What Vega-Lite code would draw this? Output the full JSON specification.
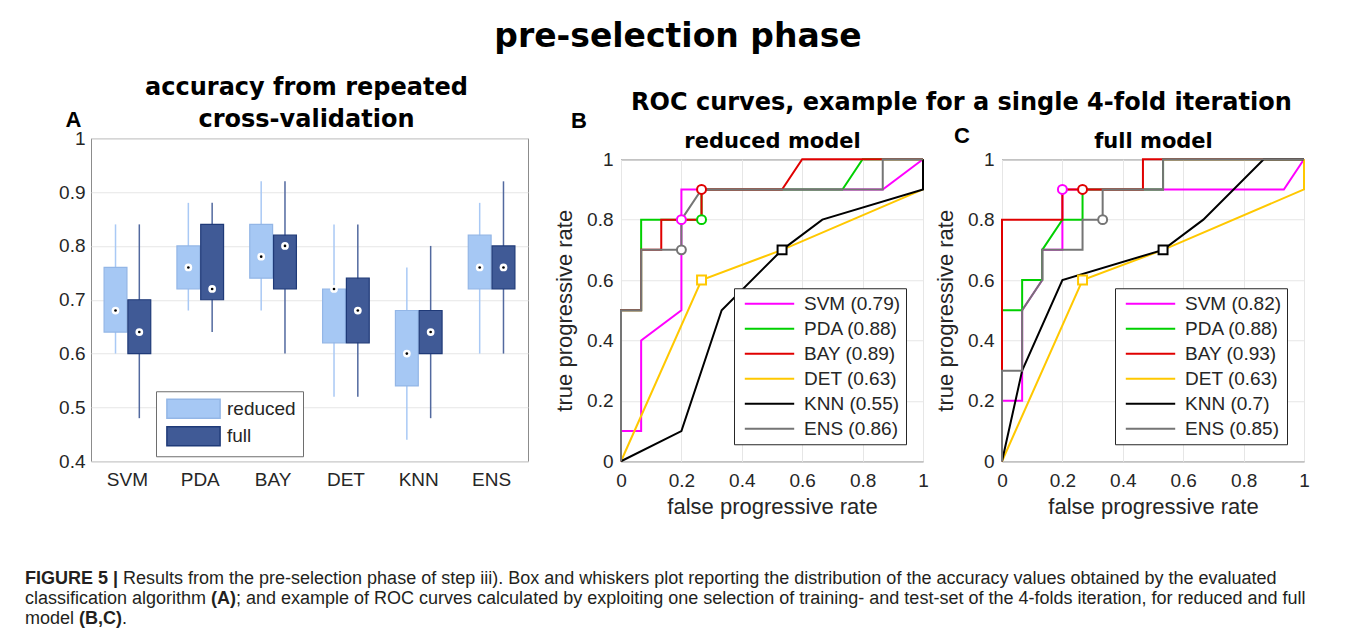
{
  "$schema": "https://vega.github.io/schema/vega-lite/v6.json",
  "background": "white",
  "padding": {"left": 25, "top": 20, "right": 5, "bottom": 5},
  "config": {
    "font": "Liberation Sans",
    "axis": {"labelFont": "Liberation Sans", "labelFontSize": 19, "labelColor": "#262626", "titleFont": "Liberation Sans", "titleFontWeight": "normal", "titleColor": "#262626", "labelFlush": false, "labelOverlap": false},
    "title": {"font": "DejaVu Sans", "fontWeight": "bold", "color": "#000000"},
    "legend": {"labelFont": "Liberation Sans", "labelFontSize": 19, "labelColor": "#262626", "labelLimit": 300}
  },
  "datasets": {
    "box": [
      {"clf": "SVM", "model": "reduced", "lo": 0.60, "q1": 0.64, "med": 0.68, "q3": 0.76, "hi": 0.84},
      {"clf": "SVM", "model": "full", "lo": 0.48, "q1": 0.60, "med": 0.64, "q3": 0.70, "hi": 0.84},
      {"clf": "PDA", "model": "reduced", "lo": 0.68, "q1": 0.72, "med": 0.76, "q3": 0.80, "hi": 0.88},
      {"clf": "PDA", "model": "full", "lo": 0.64, "q1": 0.70, "med": 0.72, "q3": 0.84, "hi": 0.88},
      {"clf": "BAY", "model": "reduced", "lo": 0.68, "q1": 0.74, "med": 0.78, "q3": 0.84, "hi": 0.92},
      {"clf": "BAY", "model": "full", "lo": 0.60, "q1": 0.72, "med": 0.80, "q3": 0.82, "hi": 0.92},
      {"clf": "DET", "model": "reduced", "lo": 0.52, "q1": 0.62, "med": 0.72, "q3": 0.72, "hi": 0.84},
      {"clf": "DET", "model": "full", "lo": 0.52, "q1": 0.62, "med": 0.68, "q3": 0.74, "hi": 0.84},
      {"clf": "KNN", "model": "reduced", "lo": 0.44, "q1": 0.54, "med": 0.60, "q3": 0.68, "hi": 0.76},
      {"clf": "KNN", "model": "full", "lo": 0.48, "q1": 0.60, "med": 0.64, "q3": 0.68, "hi": 0.80},
      {"clf": "ENS", "model": "reduced", "lo": 0.60, "q1": 0.72, "med": 0.76, "q3": 0.82, "hi": 0.88},
      {"clf": "ENS", "model": "full", "lo": 0.60, "q1": 0.72, "med": 0.76, "q3": 0.80, "hi": 0.92}
    ],
    "rocB": [
      {"curve": "SVM (0.79)", "i": 0, "fpr": 0, "tpr": 0},
      {"curve": "SVM (0.79)", "i": 1, "fpr": 0, "tpr": 0.1},
      {"curve": "SVM (0.79)", "i": 2, "fpr": 0.0667, "tpr": 0.1},
      {"curve": "SVM (0.79)", "i": 3, "fpr": 0.0667, "tpr": 0.4},
      {"curve": "SVM (0.79)", "i": 4, "fpr": 0.2, "tpr": 0.5},
      {"curve": "SVM (0.79)", "i": 5, "fpr": 0.2, "tpr": 0.9},
      {"curve": "SVM (0.79)", "i": 6, "fpr": 0.8667, "tpr": 0.9},
      {"curve": "SVM (0.79)", "i": 7, "fpr": 1, "tpr": 1},
      {"curve": "PDA (0.88)", "i": 0, "fpr": 0, "tpr": 0},
      {"curve": "PDA (0.88)", "i": 1, "fpr": 0, "tpr": 0.5},
      {"curve": "PDA (0.88)", "i": 2, "fpr": 0.0667, "tpr": 0.5},
      {"curve": "PDA (0.88)", "i": 3, "fpr": 0.0667, "tpr": 0.8},
      {"curve": "PDA (0.88)", "i": 4, "fpr": 0.2667, "tpr": 0.8},
      {"curve": "PDA (0.88)", "i": 5, "fpr": 0.2667, "tpr": 0.9},
      {"curve": "PDA (0.88)", "i": 6, "fpr": 0.7333, "tpr": 0.9},
      {"curve": "PDA (0.88)", "i": 7, "fpr": 0.8, "tpr": 1},
      {"curve": "PDA (0.88)", "i": 8, "fpr": 1, "tpr": 1},
      {"curve": "BAY (0.89)", "i": 0, "fpr": 0, "tpr": 0},
      {"curve": "BAY (0.89)", "i": 1, "fpr": 0, "tpr": 0.5},
      {"curve": "BAY (0.89)", "i": 2, "fpr": 0.0667, "tpr": 0.5},
      {"curve": "BAY (0.89)", "i": 3, "fpr": 0.0667, "tpr": 0.7},
      {"curve": "BAY (0.89)", "i": 4, "fpr": 0.1333, "tpr": 0.7},
      {"curve": "BAY (0.89)", "i": 5, "fpr": 0.1333, "tpr": 0.8},
      {"curve": "BAY (0.89)", "i": 6, "fpr": 0.2667, "tpr": 0.8},
      {"curve": "BAY (0.89)", "i": 7, "fpr": 0.2667, "tpr": 0.9},
      {"curve": "BAY (0.89)", "i": 8, "fpr": 0.5333, "tpr": 0.9},
      {"curve": "BAY (0.89)", "i": 9, "fpr": 0.6, "tpr": 1},
      {"curve": "BAY (0.89)", "i": 10, "fpr": 1, "tpr": 1},
      {"curve": "DET (0.63)", "i": 0, "fpr": 0, "tpr": 0},
      {"curve": "DET (0.63)", "i": 1, "fpr": 0.2667, "tpr": 0.6},
      {"curve": "DET (0.63)", "i": 2, "fpr": 0.5333, "tpr": 0.7},
      {"curve": "DET (0.63)", "i": 3, "fpr": 1, "tpr": 0.9},
      {"curve": "DET (0.63)", "i": 4, "fpr": 1, "tpr": 1},
      {"curve": "KNN (0.55)", "i": 0, "fpr": 0, "tpr": 0},
      {"curve": "KNN (0.55)", "i": 1, "fpr": 0.2, "tpr": 0.1},
      {"curve": "KNN (0.55)", "i": 2, "fpr": 0.3333, "tpr": 0.5},
      {"curve": "KNN (0.55)", "i": 3, "fpr": 0.5333, "tpr": 0.7},
      {"curve": "KNN (0.55)", "i": 4, "fpr": 0.6667, "tpr": 0.8},
      {"curve": "KNN (0.55)", "i": 5, "fpr": 1, "tpr": 0.9},
      {"curve": "KNN (0.55)", "i": 6, "fpr": 1, "tpr": 1},
      {"curve": "ENS (0.86)", "i": 0, "fpr": 0, "tpr": 0},
      {"curve": "ENS (0.86)", "i": 1, "fpr": 0, "tpr": 0.5},
      {"curve": "ENS (0.86)", "i": 2, "fpr": 0.0667, "tpr": 0.5},
      {"curve": "ENS (0.86)", "i": 3, "fpr": 0.0667, "tpr": 0.7},
      {"curve": "ENS (0.86)", "i": 4, "fpr": 0.2, "tpr": 0.7},
      {"curve": "ENS (0.86)", "i": 5, "fpr": 0.2, "tpr": 0.8},
      {"curve": "ENS (0.86)", "i": 6, "fpr": 0.2667, "tpr": 0.9},
      {"curve": "ENS (0.86)", "i": 7, "fpr": 0.8667, "tpr": 0.9},
      {"curve": "ENS (0.86)", "i": 8, "fpr": 0.8667, "tpr": 1},
      {"curve": "ENS (0.86)", "i": 9, "fpr": 1, "tpr": 1}
    ],
    "markB": [
      {"curve": "SVM (0.79)", "shape": "circle", "fpr": 0.2, "tpr": 0.8},
      {"curve": "PDA (0.88)", "shape": "circle", "fpr": 0.2667, "tpr": 0.8},
      {"curve": "BAY (0.89)", "shape": "circle", "fpr": 0.2667, "tpr": 0.9},
      {"curve": "DET (0.63)", "shape": "square", "fpr": 0.2667, "tpr": 0.6},
      {"curve": "KNN (0.55)", "shape": "square", "fpr": 0.5333, "tpr": 0.7},
      {"curve": "ENS (0.86)", "shape": "circle", "fpr": 0.2, "tpr": 0.7}
    ],
    "rocC": [
      {"curve": "SVM (0.82)", "i": 0, "fpr": 0, "tpr": 0},
      {"curve": "SVM (0.82)", "i": 1, "fpr": 0, "tpr": 0.2},
      {"curve": "SVM (0.82)", "i": 2, "fpr": 0.0667, "tpr": 0.2},
      {"curve": "SVM (0.82)", "i": 3, "fpr": 0.0667, "tpr": 0.5},
      {"curve": "SVM (0.82)", "i": 4, "fpr": 0.1333, "tpr": 0.6},
      {"curve": "SVM (0.82)", "i": 5, "fpr": 0.1333, "tpr": 0.7},
      {"curve": "SVM (0.82)", "i": 6, "fpr": 0.2, "tpr": 0.7},
      {"curve": "SVM (0.82)", "i": 7, "fpr": 0.2, "tpr": 0.9},
      {"curve": "SVM (0.82)", "i": 8, "fpr": 0.9333, "tpr": 0.9},
      {"curve": "SVM (0.82)", "i": 9, "fpr": 1, "tpr": 1},
      {"curve": "PDA (0.88)", "i": 0, "fpr": 0, "tpr": 0},
      {"curve": "PDA (0.88)", "i": 1, "fpr": 0, "tpr": 0.5},
      {"curve": "PDA (0.88)", "i": 2, "fpr": 0.0667, "tpr": 0.5},
      {"curve": "PDA (0.88)", "i": 3, "fpr": 0.0667, "tpr": 0.6},
      {"curve": "PDA (0.88)", "i": 4, "fpr": 0.1333, "tpr": 0.6},
      {"curve": "PDA (0.88)", "i": 5, "fpr": 0.1333, "tpr": 0.7},
      {"curve": "PDA (0.88)", "i": 6, "fpr": 0.2, "tpr": 0.8},
      {"curve": "PDA (0.88)", "i": 7, "fpr": 0.2667, "tpr": 0.8},
      {"curve": "PDA (0.88)", "i": 8, "fpr": 0.2667, "tpr": 0.9},
      {"curve": "PDA (0.88)", "i": 9, "fpr": 0.5333, "tpr": 0.9},
      {"curve": "PDA (0.88)", "i": 10, "fpr": 0.5333, "tpr": 1},
      {"curve": "PDA (0.88)", "i": 11, "fpr": 1, "tpr": 1},
      {"curve": "BAY (0.93)", "i": 0, "fpr": 0, "tpr": 0},
      {"curve": "BAY (0.93)", "i": 1, "fpr": 0, "tpr": 0.8},
      {"curve": "BAY (0.93)", "i": 2, "fpr": 0.2, "tpr": 0.8},
      {"curve": "BAY (0.93)", "i": 3, "fpr": 0.2, "tpr": 0.9},
      {"curve": "BAY (0.93)", "i": 4, "fpr": 0.4667, "tpr": 0.9},
      {"curve": "BAY (0.93)", "i": 5, "fpr": 0.4667, "tpr": 1},
      {"curve": "BAY (0.93)", "i": 6, "fpr": 1, "tpr": 1},
      {"curve": "DET (0.63)", "i": 0, "fpr": 0, "tpr": 0},
      {"curve": "DET (0.63)", "i": 1, "fpr": 0.2667, "tpr": 0.6},
      {"curve": "DET (0.63)", "i": 2, "fpr": 0.5333, "tpr": 0.7},
      {"curve": "DET (0.63)", "i": 3, "fpr": 1, "tpr": 0.9},
      {"curve": "DET (0.63)", "i": 4, "fpr": 1, "tpr": 1},
      {"curve": "KNN (0.7)", "i": 0, "fpr": 0, "tpr": 0},
      {"curve": "KNN (0.7)", "i": 1, "fpr": 0.0667, "tpr": 0.3},
      {"curve": "KNN (0.7)", "i": 2, "fpr": 0.2, "tpr": 0.6},
      {"curve": "KNN (0.7)", "i": 3, "fpr": 0.5333, "tpr": 0.7},
      {"curve": "KNN (0.7)", "i": 4, "fpr": 0.6667, "tpr": 0.8},
      {"curve": "KNN (0.7)", "i": 5, "fpr": 0.8667, "tpr": 1},
      {"curve": "KNN (0.7)", "i": 6, "fpr": 1, "tpr": 1},
      {"curve": "ENS (0.85)", "i": 0, "fpr": 0, "tpr": 0},
      {"curve": "ENS (0.85)", "i": 1, "fpr": 0, "tpr": 0.3},
      {"curve": "ENS (0.85)", "i": 2, "fpr": 0.0667, "tpr": 0.3},
      {"curve": "ENS (0.85)", "i": 3, "fpr": 0.0667, "tpr": 0.5},
      {"curve": "ENS (0.85)", "i": 4, "fpr": 0.1333, "tpr": 0.6},
      {"curve": "ENS (0.85)", "i": 5, "fpr": 0.1333, "tpr": 0.7},
      {"curve": "ENS (0.85)", "i": 6, "fpr": 0.2667, "tpr": 0.7},
      {"curve": "ENS (0.85)", "i": 7, "fpr": 0.2667, "tpr": 0.8},
      {"curve": "ENS (0.85)", "i": 8, "fpr": 0.3333, "tpr": 0.8},
      {"curve": "ENS (0.85)", "i": 9, "fpr": 0.3333, "tpr": 0.9},
      {"curve": "ENS (0.85)", "i": 10, "fpr": 0.5333, "tpr": 0.9},
      {"curve": "ENS (0.85)", "i": 11, "fpr": 0.5333, "tpr": 1},
      {"curve": "ENS (0.85)", "i": 12, "fpr": 1, "tpr": 1}
    ],
    "markC": [
      {"curve": "SVM (0.82)", "shape": "circle", "fpr": 0.2, "tpr": 0.9},
      {"curve": "BAY (0.93)", "shape": "circle", "fpr": 0.2667, "tpr": 0.9},
      {"curve": "DET (0.63)", "shape": "square", "fpr": 0.2667, "tpr": 0.6},
      {"curve": "KNN (0.7)", "shape": "square", "fpr": 0.5333, "tpr": 0.7},
      {"curve": "ENS (0.85)", "shape": "circle", "fpr": 0.3333, "tpr": 0.8}
    ],
    "caption": [
      {"line": 1, "seg": "s1", "text": "FIGURE 5 |"},
      {"line": 1, "seg": "s2", "text": "Results from the pre-selection phase of step iii). Box and whiskers plot reporting the distribution of the accuracy values obtained by the evaluated"},
      {"line": 2, "seg": "s3", "text": "classification algorithm"},
      {"line": 2, "seg": "s4", "text": "(A)"},
      {"line": 2, "seg": "s5", "text": "; and example of ROC curves calculated by exploiting one selection of training- and test-set of the 4-folds iteration, for reduced and full"},
      {"line": 3, "seg": "s6", "text": "model"},
      {"line": 3, "seg": "s7", "text": "(B,C)"},
      {"line": 3, "seg": "s8", "text": "."}
    ]
  },
  "title": {"text": "pre-selection phase", "fontSize": 33, "anchor": "middle", "offset": 22},
  "spacing": 30,
  "resolve": {"scale": {"x": "independent", "y": "independent", "color": "independent"}},
  "vconcat": [
    {
      "spacing": 24,
      "center": true,
      "resolve": {"scale": {"x": "independent", "y": "independent", "color": "independent", "fill": "independent", "stroke": "independent", "shape": "independent"}},
      "hconcat": [
        {
          "width": 437,
          "height": 323,
          "view": {"stroke": "#8c8c8c"},
          "title": {"text": ["accuracy from repeated", "cross-validation"], "fontSize": 24, "lineHeight": 32, "offset": -24, "frame": "group", "dx": -3},
          "data": {"name": "box"},
          "encoding": {
            "x": {"field": "clf", "type": "nominal", "sort": ["SVM", "PDA", "BAY", "DET", "KNN", "ENS"], "scale": {"paddingInner": 0, "paddingOuter": 0},
                  "axis": {"title": " ", "titleFontSize": 22, "titlePadding": 28, "labelAngle": 0, "ticks": false, "domain": false, "labelPadding": 9}},
            "xOffset": {"field": "model", "type": "nominal", "sort": ["reduced", "full"], "scale": {"paddingInner": 0.04, "paddingOuter": 0.55}}
          },
          "layer": [
            {
              "transform": [{"filter": "datum.model === 'reduced'"}],
              "mark": {"type": "rule", "strokeWidth": 1.5, "color": "#a9c9f5"},
              "encoding": {
                "y": {"field": "lo", "type": "quantitative", "scale": {"domain": [0.4, 1], "nice": false, "zero": false},
                      "axis": {"values": [0.4, 0.5, 0.6, 0.7, 0.8, 0.9, 1], "format": "~g", "grid": true, "gridColor": "#e6e6e6", "domain": false, "ticks": false, "labelPadding": 6,
                               "title": "A", "titleAngle": 0, "titleAlign": "left", "titleBaseline": "alphabetic", "titleX": -26, "titleY": -12, "titleFont": "Liberation Sans", "titleFontWeight": "bold", "titleFontSize": 22, "titleColor": "#000000"}},
                "y2": {"field": "hi"}
              }
            },
            {
              "transform": [{"filter": "datum.model === 'full'"}],
              "mark": {"type": "rule", "strokeWidth": 1.5, "color": "#52699f"},
              "encoding": {
                "y": {"field": "lo", "type": "quantitative"},
                "y2": {"field": "hi"}
              }
            },
            {
              "mark": {"type": "bar", "strokeWidth": 1.2},
              "encoding": {
                "y": {"field": "q1", "type": "quantitative"},
                "y2": {"field": "q3"},
                "fill": {"field": "model", "type": "nominal", "scale": {"domain": ["reduced", "full"], "range": ["#a6c8f4", "#405a96"]},
                         "legend": {"title": null, "orient": "none", "legendX": 65, "legendY": 253, "symbolType": "M-2.8,-1H2.8V1H-2.8Z", "symbolSize": 361, "symbolOffset": 20, "symbolStrokeWidth": 1.5, "padding": 7, "rowPadding": 2.5, "labelOffset": 23, "strokeColor": "#6e6e6e", "fillColor": "#ffffff"}},
                "stroke": {"field": "model", "type": "nominal", "scale": {"domain": ["reduced", "full"], "range": ["#93b6e6", "#1f3a78"]},
                           "legend": {"title": null, "orient": "none", "legendX": 65, "legendY": 253, "symbolType": "M-2.8,-1H2.8V1H-2.8Z", "symbolSize": 361, "symbolOffset": 20, "symbolStrokeWidth": 1.5, "padding": 7, "rowPadding": 2.5, "labelOffset": 23, "strokeColor": "#6e6e6e", "fillColor": "#ffffff"}}
              }
            },
            {
              "mark": {"type": "point", "filled": true, "color": "#ffffff", "size": 60, "opacity": 1},
              "encoding": {"y": {"field": "med", "type": "quantitative"}}
            },
            {
              "mark": {"type": "point", "filled": true, "color": "#000000", "size": 7, "opacity": 1},
              "encoding": {"y": {"field": "med", "type": "quantitative"}}
            }
          ]
        },
        {
          "title": {"text": "ROC curves, example for a single 4-fold iteration", "fontSize": 24, "anchor": "middle", "offset": -5, "dx": 30},
          "spacing": 5,
          "resolve": {"scale": {"x": "independent", "y": "independent", "color": "independent", "stroke": "independent"}},
          "hconcat": [
            {
              "width": 302,
              "height": 302,
              "view": {"stroke": "#262626"},
              "title": {"text": "B", "anchor": "start", "frame": "group", "dx": -50, "font": "Liberation Sans", "fontSize": 22, "fontWeight": "bold", "offset": -3},
              "resolve": {"axis": {"x": "independent", "y": "independent"}},
              "layer": [
                {
                  "data": {"name": "rocB"},
                  "mark": {"type": "line", "strokeWidth": 2},
                  "encoding": {
                    "x": {"field": "fpr", "type": "quantitative", "scale": {"domain": [0, 1], "nice": false},
                          "axis": {"title": "false progressive rate", "titleFontSize": 22, "titlePadding": 6, "values": [0, 0.2, 0.4, 0.6, 0.8, 1], "format": "~g", "grid": true, "gridColor": "#e6e6e6", "domain": false, "ticks": false, "labelPadding": 10}},
                    "y": {"field": "tpr", "type": "quantitative", "scale": {"domain": [0, 1], "nice": false},
                          "axis": {"title": "true progressive rate", "titleFontSize": 22, "titlePadding": 10, "values": [0, 0.2, 0.4, 0.6, 0.8, 1], "format": "~g", "grid": true, "gridColor": "#e6e6e6", "domain": false, "ticks": false, "labelPadding": 8}},
                    "color": {"field": "curve", "type": "nominal",
                              "scale": {"domain": ["SVM (0.79)", "PDA (0.88)", "BAY (0.89)", "DET (0.63)", "KNN (0.55)", "ENS (0.86)"], "range": ["#ff00ff", "#00d000", "#e00000", "#ffc800", "#000000", "#757575"]},
                              "legend": {"title": null, "orient": "bottom-right", "offset": 17, "symbolType": "M-2.6,0H2.6", "symbolSize": 361, "symbolOffset": 20, "symbolStrokeWidth": 2, "symbolFillColor": "transparent", "padding": 5, "rowPadding": 4, "labelOffset": 24, "strokeColor": "#262626", "fillColor": "#ffffff"}},
                    "order": {"field": "i", "type": "quantitative"}
                  }
                },
                {
                  "data": {"name": "markB"},
                  "transform": [{"filter": "datum.shape === 'circle'"}],
                  "mark": {"type": "point", "shape": "circle", "filled": true, "fill": "#ffffff", "strokeWidth": 2, "size": 80, "opacity": 1},
                  "encoding": {
                    "x": {"field": "fpr", "type": "quantitative", "axis": null},
                    "y": {"field": "tpr", "type": "quantitative", "axis": null},
                    "stroke": {"field": "curve", "type": "nominal",
                               "scale": {"domain": ["SVM (0.79)", "PDA (0.88)", "BAY (0.89)", "DET (0.63)", "KNN (0.55)", "ENS (0.86)"], "range": ["#ff00ff", "#00d000", "#e00000", "#ffc800", "#000000", "#757575"]}, "legend": null}
                  }
                },
                {
                  "data": {"name": "markB"},
                  "transform": [{"filter": "datum.shape === 'square'"}],
                  "mark": {"type": "point", "shape": "square", "filled": true, "fill": "#ffffff", "strokeWidth": 2, "size": 80, "opacity": 1},
                  "encoding": {
                    "x": {"field": "fpr", "type": "quantitative", "axis": null},
                    "y": {"field": "tpr", "type": "quantitative", "axis": null},
                    "stroke": {"field": "curve", "type": "nominal", "legend": null}
                  }
                },
                {
                  "data": {"name": "markB"},
                  "mark": {"type": "point", "opacity": 0},
                  "encoding": {
                    "x": {"field": "fpr", "type": "quantitative",
                          "axis": {"orient": "top", "title": "reduced model", "titleFont": "DejaVu Sans", "titleFontWeight": "bold", "titleFontSize": 21, "titleColor": "#000000", "labels": false, "ticks": false, "domain": false, "grid": false, "titleX": 151, "titleY": -12, "titleAlign": "center", "titleBaseline": "alphabetic"}}
                  }
                }
              ]
            },
            {
              "width": 302,
              "height": 302,
              "view": {"stroke": "#262626"},
              "title": {"text": "C", "anchor": "start", "frame": "group", "dx": -48, "dy": 21, "font": "Liberation Sans", "fontSize": 22, "fontWeight": "bold", "offset": 3},
              "resolve": {"axis": {"x": "independent", "y": "independent"}},
              "layer": [
                {
                  "data": {"name": "rocC"},
                  "mark": {"type": "line", "strokeWidth": 2},
                  "encoding": {
                    "x": {"field": "fpr", "type": "quantitative", "scale": {"domain": [0, 1], "nice": false},
                          "axis": {"title": "false progressive rate", "titleFontSize": 22, "titlePadding": 6, "values": [0, 0.2, 0.4, 0.6, 0.8, 1], "format": "~g", "grid": true, "gridColor": "#e6e6e6", "domain": false, "ticks": false, "labelPadding": 10}},
                    "y": {"field": "tpr", "type": "quantitative", "scale": {"domain": [0, 1], "nice": false},
                          "axis": {"title": "true progressive rate", "titleFontSize": 22, "titlePadding": 10, "values": [0, 0.2, 0.4, 0.6, 0.8, 1], "format": "~g", "grid": true, "gridColor": "#e6e6e6", "domain": false, "ticks": false, "labelPadding": 8}},
                    "color": {"field": "curve", "type": "nominal",
                              "scale": {"domain": ["SVM (0.82)", "PDA (0.88)", "BAY (0.93)", "DET (0.63)", "KNN (0.7)", "ENS (0.85)"], "range": ["#ff00ff", "#00d000", "#e00000", "#ffc800", "#000000", "#757575"]},
                              "legend": {"title": null, "orient": "bottom-right", "offset": 17, "symbolType": "M-2.6,0H2.6", "symbolSize": 361, "symbolOffset": 20, "symbolStrokeWidth": 2, "symbolFillColor": "transparent", "padding": 5, "rowPadding": 4, "labelOffset": 24, "strokeColor": "#262626", "fillColor": "#ffffff"}},
                    "order": {"field": "i", "type": "quantitative"}
                  }
                },
                {
                  "data": {"name": "markC"},
                  "transform": [{"filter": "datum.shape === 'circle'"}],
                  "mark": {"type": "point", "shape": "circle", "filled": true, "fill": "#ffffff", "strokeWidth": 2, "size": 80, "opacity": 1},
                  "encoding": {
                    "x": {"field": "fpr", "type": "quantitative", "axis": null},
                    "y": {"field": "tpr", "type": "quantitative", "axis": null},
                    "stroke": {"field": "curve", "type": "nominal",
                               "scale": {"domain": ["SVM (0.82)", "PDA (0.88)", "BAY (0.93)", "DET (0.63)", "KNN (0.7)", "ENS (0.85)"], "range": ["#ff00ff", "#00d000", "#e00000", "#ffc800", "#000000", "#757575"]}, "legend": null}
                  }
                },
                {
                  "data": {"name": "markC"},
                  "transform": [{"filter": "datum.shape === 'square'"}],
                  "mark": {"type": "point", "shape": "square", "filled": true, "fill": "#ffffff", "strokeWidth": 2, "size": 80, "opacity": 1},
                  "encoding": {
                    "x": {"field": "fpr", "type": "quantitative", "axis": null},
                    "y": {"field": "tpr", "type": "quantitative", "axis": null},
                    "stroke": {"field": "curve", "type": "nominal", "legend": null}
                  }
                },
                {
                  "data": {"name": "markC"},
                  "mark": {"type": "point", "opacity": 0},
                  "encoding": {
                    "x": {"field": "fpr", "type": "quantitative",
                          "axis": {"orient": "top", "title": "full model", "titleFont": "DejaVu Sans", "titleFontWeight": "bold", "titleFontSize": 21, "titleColor": "#000000", "labels": false, "ticks": false, "domain": false, "grid": false, "titleX": 151, "titleY": -12, "titleAlign": "center", "titleBaseline": "alphabetic"}}
                  }
                }
              ]
            }
          ]
        }
      ]
    },
    {
      "width": 1240,
      "height": 60,
      "view": {"stroke": null},
      "data": {"name": "caption"},
      "encoding": {
        "y": {"field": "line", "type": "ordinal", "axis": null, "scale": {"paddingInner": 0, "paddingOuter": 0}},
        "x": {"datum": 0, "type": "quantitative", "scale": {"domain": [0, 1]}, "axis": null}
      },
      "layer": [
        {"transform": [{"filter": "datum.seg === 's1'"}], "mark": {"type": "text", "align": "left", "baseline": "middle", "fontSize": 18, "fontWeight": "bold", "color": "#231f20", "dx": -66}, "encoding": {"text": {"field": "text"}}},
        {"transform": [{"filter": "datum.seg === 's3' || datum.seg === 's6'"}], "mark": {"type": "text", "align": "left", "baseline": "middle", "fontSize": 18, "color": "#231f20", "dx": -66}, "encoding": {"text": {"field": "text"}}},
        {"transform": [{"filter": "datum.seg === 's2'"}], "mark": {"type": "text", "align": "left", "baseline": "middle", "fontSize": 18, "color": "#231f20", "dx": 32}, "encoding": {"text": {"field": "text"}}},
        {"transform": [{"filter": "datum.seg === 's4'"}], "mark": {"type": "text", "align": "left", "baseline": "middle", "fontSize": 18, "fontWeight": "bold", "color": "#231f20", "dx": 120}, "encoding": {"text": {"field": "text"}}},
        {"transform": [{"filter": "datum.seg === 's5'"}], "mark": {"type": "text", "align": "left", "baseline": "middle", "fontSize": 18, "color": "#231f20", "dx": 145}, "encoding": {"text": {"field": "text"}}},
        {"transform": [{"filter": "datum.seg === 's7'"}], "mark": {"type": "text", "align": "left", "baseline": "middle", "fontSize": 18, "fontWeight": "bold", "color": "#231f20", "dx": -12}, "encoding": {"text": {"field": "text"}}},
        {"transform": [{"filter": "datum.seg === 's8'"}], "mark": {"type": "text", "align": "left", "baseline": "middle", "fontSize": 18, "color": "#231f20", "dx": 31}, "encoding": {"text": {"field": "text"}}}
      ]
    }
  ]
}
